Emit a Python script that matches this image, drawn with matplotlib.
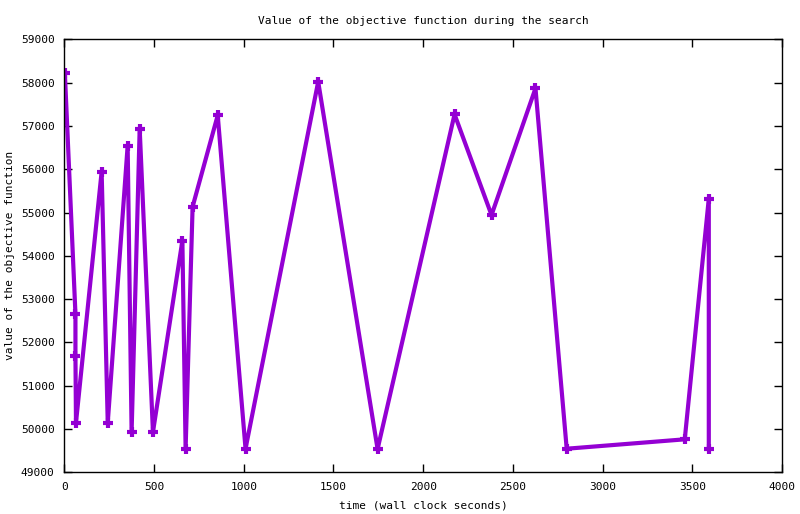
import numpy as np
import matplotlib
matplotlib.use("Agg")
import matplotlib.pyplot as plt

# wall clock time (s) and objective value
t = [3, 62, 62, 65, 208, 242, 353, 375, 420, 494, 658, 676, 715, 855, 1010,
     1415, 1746, 2175, 2381, 2626, 2800, 3458, 3592, 3592]
obj = [58220, 52660, 51690, 50145, 55942, 50145, 56543, 49931, 56935, 49930,
       54349, 49545, 55134, 57245, 49545, 58021, 49538, 57268, 54942, 57868,
       49545, 49762, 55319, 49545]

xticks = np.arange(0, 4001, 500)
yticks = np.arange(49000, 59001, 1000)

plt.rcParams['font.family'] = ['DejaVu Sans Mono']
fig = plt.figure(figsize=(8, 5.14), dpi=100)
ax = fig.add_axes([0.0804, 0.0811, 0.8971, 0.8424])

ax.plot(t, obj, color='#9400d3', lw=3, marker='+', ms=7.5, mew=3)

ax.set_xlim(0, 4000)
ax.set_ylim(49000, 59000)
ax.set_xticks(xticks)
ax.set_yticks(yticks)
ax.tick_params(direction='in', length=6, width=1, top=True, right=True,
               labelsize=8, pad=7)
for s in ax.spines.values():
    s.set_linewidth(1)

ax.set_title('Value of the objective function during the search', fontsize=8, pad=11)
ax.set_xlabel('time (wall clock seconds)', fontsize=8, labelpad=6)
ax.set_ylabel('value of the objective function', fontsize=8, labelpad=4)

fig.savefig('out.png', dpi=100)
